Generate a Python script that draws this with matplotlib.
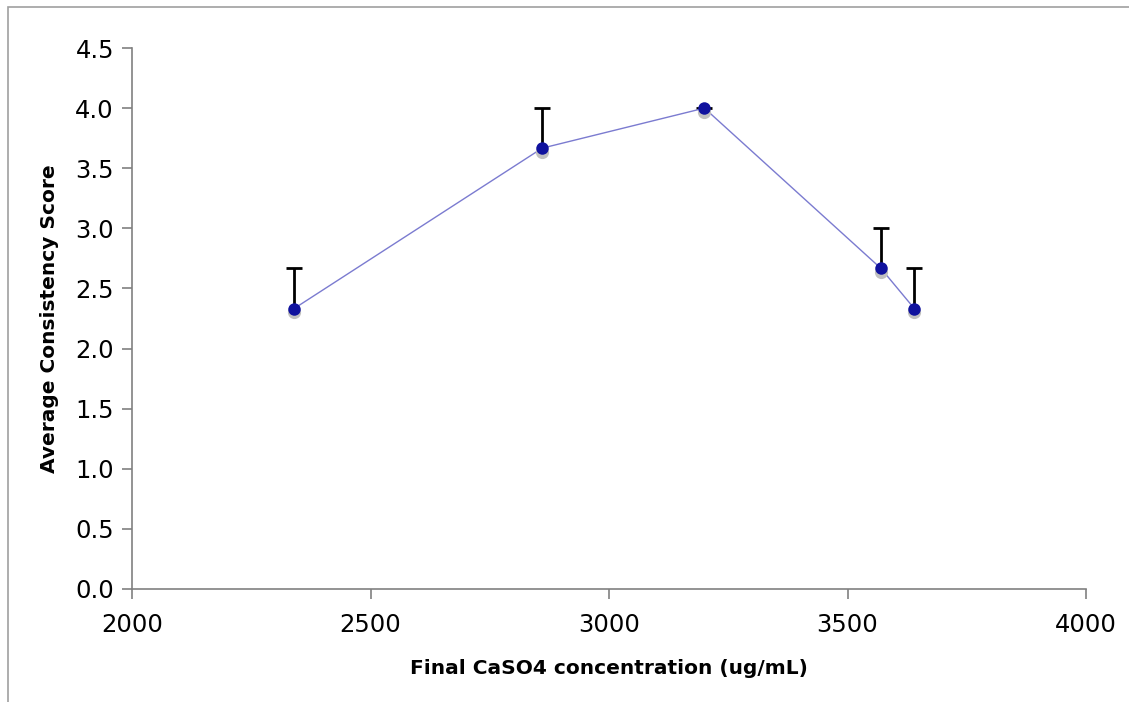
import matplotlib
matplotlib.use("Agg")
import matplotlib.pyplot as plt
from matplotlib.patches import Rectangle

conc = [2340, 2860, 3200, 3570, 3640]
score = [2.333, 3.667, 4.0, 2.667, 2.333]
err_up = [0.333, 0.333, 0.0, 0.333, 0.333]
xticks = [2000, 2500, 3000, 3500, 4000]
yticks = [0.0, 0.5, 1.0, 1.5, 2.0, 2.5, 3.0, 3.5, 4.0, 4.5]

fig = plt.figure(figsize=(11.29, 7.02), dpi=100)
fig.patches.append(Rectangle((8/1129, -0.1), 1.2, 1.1 - 7/702, transform=fig.transFigure,
                             fill=False, edgecolor='#a0a0a0', linewidth=1.2))
ax = fig.add_axes([132/1129, 1 - 589/702, (1086-132)/1129, (589-48)/702])

tops = [s + e for s, e in zip(score, err_up)]
ax.vlines(conc, score, tops, colors='black', linewidth=2, zorder=2)
ax.plot(conc, tops, '_', color='black', markersize=12, markeredgewidth=2, zorder=2)
ax.plot(conc, score, color='#7b7bd0', linewidth=1, zorder=3)
ax.plot(conc, [s - 0.03 for s in score], 'o', color='#c0c0c0', markersize=9.5,
        markeredgewidth=0, zorder=3.5)
ax.plot(conc, score, 'o', color='#10129e', markersize=9, markeredgewidth=0, zorder=4)

ax.set_xlim(2000, 4000)
ax.set_ylim(0, 4.5)
ax.set_xticks(xticks)
ax.set_xticklabels([str(t) for t in xticks])
ax.set_yticks(yticks)
ax.set_yticklabels([f"{t:.1f}" for t in yticks])
for s in ['top', 'right']:
    ax.spines[s].set_visible(False)
for s in ['left', 'bottom']:
    ax.spines[s].set_color('#808080')
    ax.spines[s].set_linewidth(1.2)
ax.tick_params(axis='both', labelsize=17.5, color='#808080', length=7, width=1.2, pad=6)
ax.tick_params(axis='x', pad=10)
ax.set_xlabel('Final CaSO4 concentration (ug/mL)', fontsize=14.5, fontweight='bold', labelpad=16)
ax.set_ylabel('Average Consistency Score', fontsize=14.5, fontweight='bold', labelpad=12)

fig.savefig('out.png', dpi=100)
